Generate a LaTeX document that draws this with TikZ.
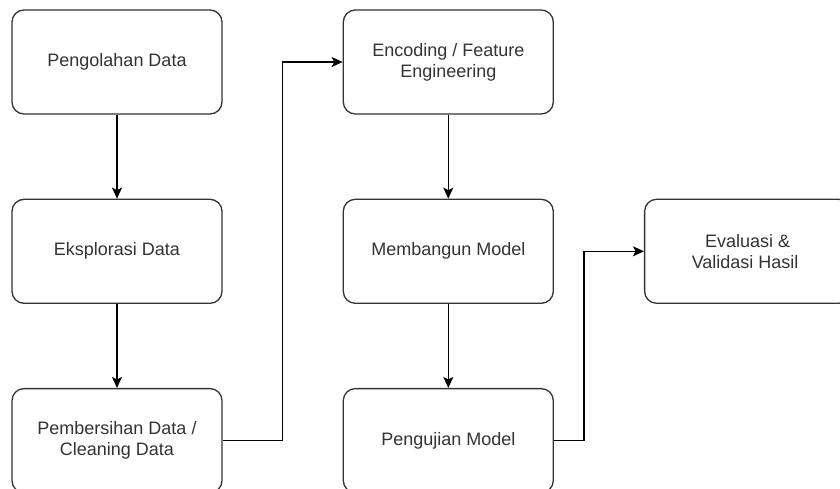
\documentclass[tikz,border=0pt]{standalone}
\usepackage{fontspec}
\setmainfont{Liberation Sans}
\usepackage{xcolor}
\usetikzlibrary{calc, positioning}
\usetikzlibrary{arrows.meta}

\definecolor{boxline}{HTML}{333333}
\definecolor{boxtext}{HTML}{333333}

\begin{document}
\begin{tikzpicture}[x=1pt,y=-1pt,
  box/.style={draw=boxline,line width=1.3pt,rounded corners=12pt,fill=white,
    minimum width=210pt,minimum height=104pt,align=center,text=boxtext,
    font=\fontsize{18}{21}\selectfont,inner sep=0pt},
  arrow/.style={draw=black,line width=1.2pt,-{Stealth[length=11pt,width=10pt,inset=2.5pt]}}]
\useasboundingbox (0,0) rectangle (840,489);
% kolom kiri
\node[box] (pengolahan) at (117,62) {Pengolahan Data};
\node[box,below=84pt of pengolahan] (eksplorasi) {Eksplorasi Data};
\node[box,below=84pt of eksplorasi] (pembersihan) {Pembersihan Data /\\Cleaning Data};
% kolom tengah
\node[box,right=120pt of pengolahan] (encoding) {Encoding / Feature\\Engineering};
\node[box,below=84pt of encoding] (membangun) {Membangun Model};
\node[box,below=84pt of membangun] (pengujian) {Pengujian Model};
% kolom kanan, terpotong di tepi kanan
\node[box,minimum width=206pt,anchor=west] (evaluasi) at ($(membangun.east)+(90pt,0)$) {Evaluasi \&\\Validasi Hasil\hspace*{5pt}};
\draw[arrow] (pengolahan) -- (eksplorasi);
\draw[arrow] (eksplorasi) -- (pembersihan);
\draw[arrow] (pembersihan.east) -- ++(60pt,0) |- (encoding.west);
\draw[arrow] (encoding) -- (membangun);
\draw[arrow] (membangun) -- (pengujian);
\draw[arrow] (pengujian.east) -- ++(30pt,0) |- (evaluasi.west);
\end{tikzpicture}
\end{document}
